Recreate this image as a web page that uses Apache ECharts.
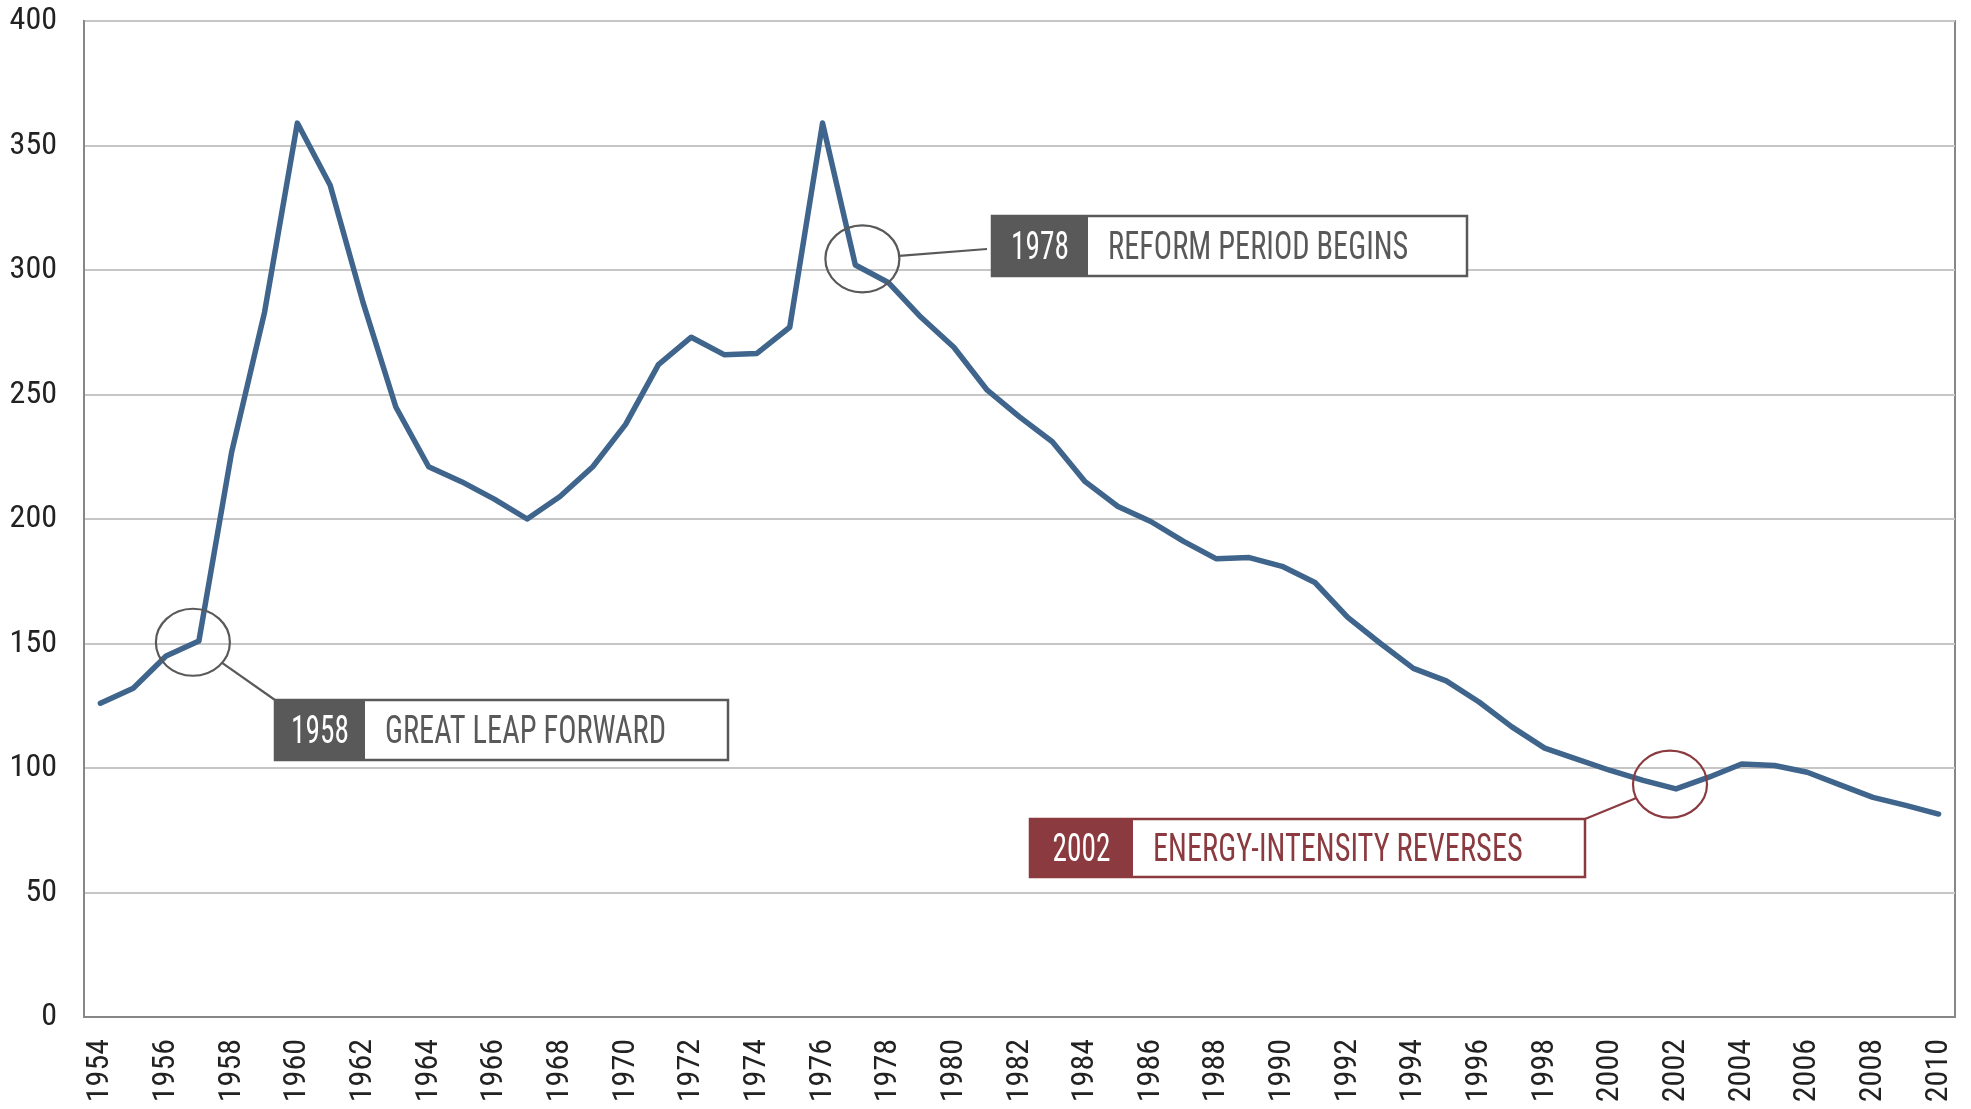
<!DOCTYPE html>
<html>
<head>
<meta charset="utf-8">
<script src="https://cdn.jsdelivr.net/npm/echarts@6/dist/echarts.min.js"></script>
<style>
  html, body { margin: 0; padding: 0; background: #fff; }
  #chart { width: 1971px; height: 1109px; }
</style>
</head>
<body>
<div id="chart"></div>
<script>
const years = [
  '1954','1955','1956','1957','1958','1959','1960','1961','1962','1963',
  '1964','1965','1966','1967','1968','1969','1970','1971','1972','1973',
  '1974','1975','1976','1977','1978','1979','1980','1981','1982','1983',
  '1984','1985','1986','1987','1988','1989','1990','1991','1992','1993',
  '1994','1995','1996','1997','1998','1999','2000','2001','2002','2003',
  '2004','2005','2006','2007','2008','2009','2010'
];
const intensity = [
  126, 132, 145, 151, 227, 283, 359, 334, 287, 245,
  221, 215, 208, 200, 209, 221, 238, 262, 273, 266,
  266.5, 277, 359, 302, 295, 281, 269, 252, 241, 231,
  215, 205, 199, 191, 184, 184.5, 181, 174.5, 160.5, 150,
  140, 135, 126.5, 116.5, 108, 103.5, 99, 95, 91.6, 96.3,
  101.6, 101, 98.3, 93.2, 88.2, 85, 81.5
];
const yTicks = [0, 50, 100, 150, 200, 250, 300, 350, 400];

// annotations: tag year, caption, circled point (year, value)
const noteTags = ['1958', '1978', '2002'];
const noteTexts = ['GREAT LEAP FORWARD', 'REFORM PERIOD BEGINS', 'ENERGY-INTENSITY REVERSES'];
const noteAnchorYears = ['1957', '1977', '2002'];
const noteAnchorValues = [150.5, 304.5, 93.5];

const FONT = '"Liberation Sans Narrow", "Roboto Condensed", "DejaVu Sans Condensed", "Liberation Sans", sans-serif';
const GRAY = '#595959';
const RED = '#8b3b3f';

// box layout for each note (pixels)
const boxes = [
  { x: 275, y: 700, w: 453, h: 60, tag: 90, color: GRAY, anchorDx: -6, link: 'tl' },
  { x: 992, y: 216, w: 475, h: 60, tag: 96, color: GRAY, anchorDx: 7, link: 'lm' },
  { x: 1030, y: 819, w: 555, h: 58, tag: 103, color: RED, anchorDx: -6, link: 'tr' }
];

const chart = echarts.init(document.getElementById('chart'));

chart.setOption({
  animation: false,
  grid: {
    left: 84, right: 16, top: 21, bottom: 92,
    containLabel: false,
    outerBoundsMode: 'none',
    show: true,
    borderColor: '#878787',
    borderWidth: 2
  },
  xAxis: {
    type: 'category',
    data: years,
    boundaryGap: true,
    axisLine: { show: true, lineStyle: { color: '#878787', width: 2 } },
    axisTick: { show: false },
    axisLabel: {
      interval: 1,
      rotate: 90,
      margin: 22,
      fontFamily: FONT,
      fontSize: 32,
      color: '#222'
    },
    splitLine: { show: false }
  },
  yAxis: {
    type: 'value',
    min: yTicks[0],
    max: yTicks[yTicks.length - 1],
    interval: yTicks[1] - yTicks[0],
    axisLine: { show: true, lineStyle: { color: '#878787', width: 2 } },
    axisTick: { show: false },
    axisLabel: {
      margin: 27,
      fontFamily: FONT,
      fontSize: 32,
      color: '#222'
    },
    splitLine: { lineStyle: { color: '#c6c6c6', width: 2 } }
  },
  series: [{
    type: 'line',
    data: intensity,
    symbol: 'none',
    lineStyle: { color: '#3f658d', width: 5.5, join: 'round', cap: 'round' },
    z: 3
  }]
});

// annotations placed from the circled data points
const graphics = [];
noteTags.forEach((tag, i) => {
  const b = boxes[i];
  const p = chart.convertToPixel({ gridIndex: 0 }, [noteAnchorYears[i], noteAnchorValues[i]]);
  const cx = p[0] + b.anchorDx, cy = p[1];
  const rx = 37, ry = 33.5;

  let tx, ty;
  if (b.link === 'tl') { tx = b.x; ty = b.y; }
  else if (b.link === 'tr') { tx = b.x + b.w; ty = b.y; }
  else { tx = b.x - 5; ty = b.y + 33; }
  const dx = tx - cx, dy = ty - cy;
  const k = 1 / Math.sqrt((dx / rx) * (dx / rx) + (dy / ry) * (dy / ry));

  graphics.push({
    type: 'ellipse', z: 10,
    shape: { cx: cx, cy: cy, rx: rx, ry: ry },
    style: { fill: 'none', stroke: b.color, lineWidth: 2.2 }
  });
  graphics.push({
    type: 'line', z: 10,
    shape: { x1: cx + dx * k, y1: cy + dy * k, x2: tx, y2: ty },
    style: { stroke: b.color, lineWidth: 2.2 }
  });
  graphics.push({
    type: 'rect', z: 10,
    shape: { x: b.x, y: b.y, width: b.w, height: b.h },
    style: { fill: '#fff', stroke: b.color, lineWidth: 2.5 }
  });
  graphics.push({
    type: 'rect', z: 11,
    shape: { x: b.x, y: b.y, width: b.tag, height: b.h },
    style: { fill: b.color }
  });
  graphics.push({
    type: 'text', z: 12,
    x: b.x + b.tag / 2, y: b.y + b.h / 2 + 3,
    scaleX: 0.77,
    style: {
      text: tag, fill: '#fff', fontFamily: FONT, fontSize: 38,
      align: 'center', verticalAlign: 'middle'
    }
  });
  graphics.push({
    type: 'text', z: 12,
    x: b.x + b.tag + 20, y: b.y + b.h / 2 + 3,
    scaleX: 0.80,
    style: {
      text: noteTexts[i], fill: b.color, fontFamily: FONT, fontSize: 38,
      align: 'left', verticalAlign: 'middle'
    }
  });
});

chart.setOption({ graphic: graphics });
</script>
</body>
</html>
